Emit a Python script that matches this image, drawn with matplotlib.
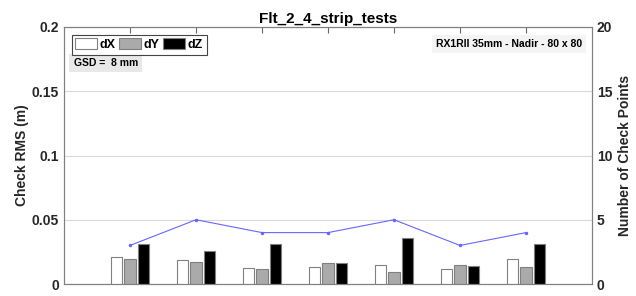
import matplotlib.pyplot as plt
import matplotlib.transforms as mtransforms
import numpy as np

plt.rcParams['font.family'] = ['Liberation Sans', 'DejaVu Sans']
plt.rcParams['font.weight'] = 'bold'
plt.rcParams['axes.labelweight'] = 'bold'

# 数据
tests = ['strip_1', 'strip_2', 'strip_3', 'strip_4', 'strip_5', 'strip_6', 'strip_7']
dx = [0.0209, 0.0190, 0.0122, 0.0130, 0.0146, 0.0115, 0.0193]
dy = [0.0195, 0.0170, 0.0117, 0.0162, 0.0094, 0.0148, 0.0130]
dz = [0.0310, 0.0255, 0.0310, 0.0162, 0.0357, 0.0138, 0.0310]
n_points = [3, 5, 4, 4, 5, 3, 4]

fig = plt.figure(figsize=(6.36, 2.96), dpi=100)
ax = fig.add_axes([64 / 636, 12 / 296, 528 / 636, 257 / 296])

x = np.arange(1, len(tests) + 1)
w = 0.17
edge = '#808080'
ax.bar(x - 0.21, dx, w, color='white', edgecolor=edge, linewidth=0.8, label='dX', zorder=3)
ax.bar(x, dy, w, color='#aaaaaa', edgecolor=edge, linewidth=0.8, label='dY', zorder=3)
ax.bar(x + 0.21, dz, w, color='black', edgecolor=edge, linewidth=0.8, label='dZ', zorder=3)

ax.set_xlim(0, 8)
ax.set_ylim(0, 0.2)
ax.set_yticks([0, 0.05, 0.1, 0.15, 0.2])
ax.set_yticklabels(['0', '0.05', '0.1', '0.15', '0.2'])
ax.set_xticks(x)
ax.set_xticklabels(tests, rotation=45, ha='right', rotation_mode='anchor', fontsize=10)
# 标签稍微右移（图中被截断）
shift = mtransforms.ScaledTranslation(6 / 100, 0, fig.dpi_scale_trans)
for lab in ax.get_xticklabels():
    lab.set_transform(lab.get_transform() + shift)
ax.tick_params(axis='x', direction='in', top=True, length=4, color='#666666', pad=8)
ax.tick_params(axis='y', direction='in', length=0, labelsize=10, colors='#262626')
ax.grid(axis='y', color='#d9d9d9', linewidth=0.8, zorder=0)
for s in ax.spines.values():
    s.set_color('#808080')
ax.set_ylabel('Check RMS (m)', fontsize=10, color='#262626', labelpad=2)
ax.set_title('Flt_2_4_strip_tests', fontsize=11, fontweight='bold', pad=3)

# 右轴：检查点数量
ax2 = ax.twinx()
ax2.plot(x, n_points, color='#6666ff', linewidth=0.8, marker='.', markersize=3)
ax2.set_ylim(0, 20)
ax2.set_yticks([0, 5, 10, 15, 20])
ax2.tick_params(axis='y', direction='in', length=0, labelsize=10, colors='#262626')
ax2.set_ylabel('Number of Check Points', fontsize=10, color='#262626')
for s in ax2.spines.values():
    s.set_color('#808080')

leg = ax.legend(loc='upper left', ncol=3, fontsize=9, handlelength=1.75, handleheight=0.9,
                handletextpad=0.2, columnspacing=0.3, borderpad=0.3, borderaxespad=0.6,
                fancybox=False, framealpha=1)
leg.get_frame().set_edgecolor('#444444')
leg.get_frame().set_linewidth(0.8)

ax.text(0.018, 0.86, 'GSD =  8 mm', transform=ax.transAxes, fontsize=7.5,
        ha='left', va='center', bbox=dict(facecolor='#e8e8e8', edgecolor='none', pad=3))
ax.text(0.981, 0.934, 'RX1RII 35mm - Nadir - 80 x 80', transform=ax.transAxes, fontsize=7.5,
        ha='right', va='center', bbox=dict(facecolor='#f4f4f4', edgecolor='none', pad=3))

plt.savefig('out.png', dpi=100)
